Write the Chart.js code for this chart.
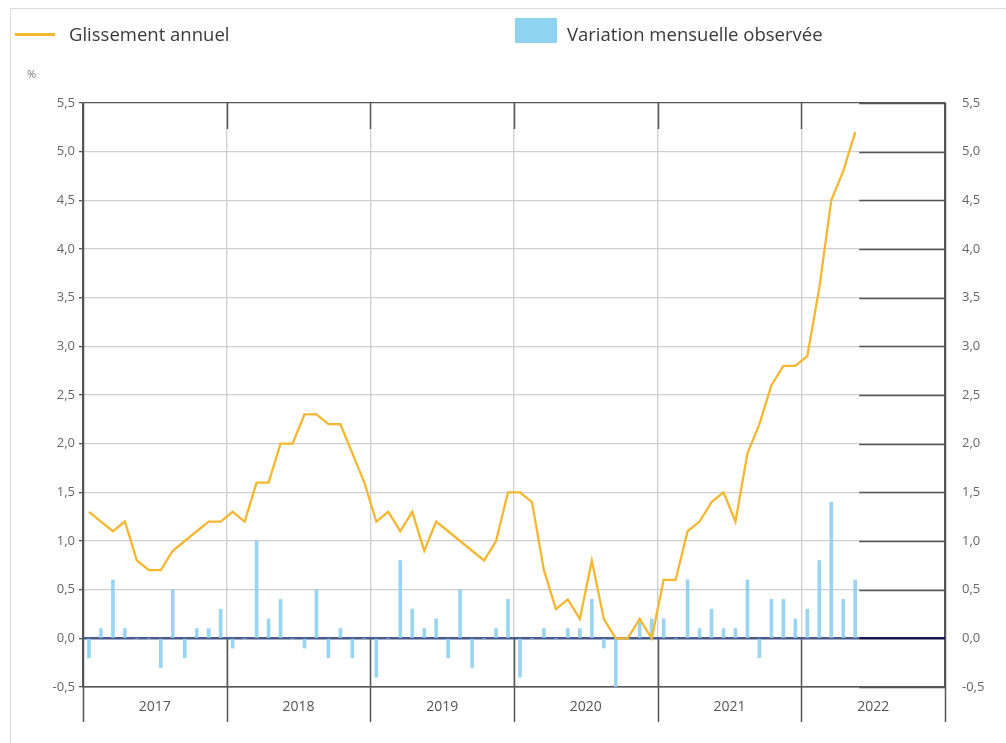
<!DOCTYPE html>
<html><head><meta charset="utf-8">
<script src="https://cdn.jsdelivr.net/npm/chart.js@4.4.1/dist/chart.umd.min.js"></script>
<style>
html,body{margin:0;padding:0;background:#fff;}
#wrap{position:relative;width:1006px;height:743px;font-family:"Open Sans",sans-serif;overflow:hidden;}
#frame{position:absolute;left:10px;top:8px;right:-2px;bottom:-2px;border-left:1px solid #dcdcdc;border-top:1px solid #dcdcdc;}
canvas{position:absolute;left:0;top:0;}
.lg{position:absolute;font-size:18.5px;color:#3a3a3a;line-height:22px;white-space:nowrap;}
</style></head>
<body><div id="wrap"><div id="frame"></div>
<canvas id="c" width="1006" height="743"></canvas>
<div style="position:absolute;left:15px;top:33px;width:40px;height:3px;background:#f4b731"></div>
<div class="lg" style="left:69px;top:23px">Glissement annuel</div>
<div style="position:absolute;left:515px;top:18px;width:42px;height:25px;background:#8fd3f0"></div>
<div class="lg" style="left:567px;top:23px">Variation mensuelle observée</div>
<div style="position:absolute;left:27px;top:66px;font-size:11px;color:#777">%</div>
</div>
<script>
const years = ['2017','2018','2019','2020','2021','2022'];
const monthsPerYear = 12;
const glissement = [
  1.3,1.2,1.1,1.2,0.8,0.7,0.7,0.9,1.0,1.1,1.2,1.2,
  1.3,1.2,1.6,1.6,2.0,2.0,2.3,2.3,2.2,2.2,1.9,1.6,
  1.2,1.3,1.1,1.3,0.9,1.2,1.1,1.0,0.9,0.8,1.0,1.5,
  1.5,1.4,0.7,0.3,0.4,0.2,0.8,0.2,0.0,0.0,0.2,0.0,
  0.6,0.6,1.1,1.2,1.4,1.5,1.2,1.9,2.2,2.6,2.8,2.8,
  2.9,3.6,4.5,4.8,5.2
];
const mensuelle = [
  -0.2,0.1,0.6,0.1,0.0,0.0,-0.3,0.5,-0.2,0.1,0.1,0.3,
  -0.1,0.0,1.0,0.2,0.4,0.0,-0.1,0.5,-0.2,0.1,-0.2,0.0,
  -0.4,0.0,0.8,0.3,0.1,0.2,-0.2,0.5,-0.3,0.0,0.1,0.4,
  -0.4,0.0,0.1,0.0,0.1,0.1,0.4,-0.1,-0.5,0.0,0.2,0.2,
  0.2,0.0,0.6,0.1,0.3,0.1,0.1,0.6,-0.2,0.4,0.4,0.2,
  0.3,0.8,1.4,0.4,0.6
];
const yTickMin = -0.5, yTickMax = 5.5, yStep = 0.5;

const monthLabels = [];
years.forEach(y => { for (let m = 1; m <= monthsPerYear; m++) monthLabels.push(y + '-' + String(m).padStart(2,'0')); });
const totalMonths = years.length * monthsPerYear;
const yearTickValues = [];
for (let v = 0; v <= totalMonths; v += monthsPerYear/2) yearTickValues.push(v);

Chart.defaults.font.family = '"Open Sans", sans-serif';
const DARK = '#555555', LIGHT = '#cfcfcf';
const fmt = v => Number(v).toFixed(1).replace('.', ',');

const decor = {
  id: 'decor',
  beforeDatasetsDraw(chart) {
    const {ctx, chartArea: a, scales} = chart;
    const xs = scales.xYear, y = scales.y, xc = scales.x;
    const y0 = y.getPixelForValue(0);
    const xEnd = xc.getPixelForValue(glissement.length - 1) + 4;
    ctx.save();
    ctx.strokeStyle = DARK; ctx.lineWidth = 1.5;
    yearTickValues.filter(v => v % monthsPerYear === 0).forEach(v => {
      const px = Math.round(xs.getPixelForValue(v)) + 0.5;
      const edge = (v === 0 || v === totalMonths);
      ctx.beginPath();
      ctx.moveTo(px, edge ? a.top : y0);
      ctx.lineTo(px, a.bottom + 35);
      ctx.stroke();
      if (!edge) {
        ctx.beginPath(); ctx.moveTo(px, a.top); ctx.lineTo(px, a.top + 26); ctx.stroke();
      }
    });
    y.ticks.forEach(t => {
      if (Math.abs(t.value) < 1e-9) return;
      const py = Math.round(y.getPixelForValue(t.value)) + 0.5;
      ctx.beginPath(); ctx.moveTo(xEnd, py); ctx.lineTo(a.right, py); ctx.stroke();
    });
    ctx.lineWidth = 2.5;
    ctx.strokeStyle = '#4a5a8c';
    ctx.beginPath(); ctx.moveTo(a.left, y0); ctx.lineTo(xEnd, y0); ctx.stroke();
    ctx.strokeStyle = '#15154f';
    ctx.beginPath(); ctx.moveTo(xEnd, y0); ctx.lineTo(a.right, y0); ctx.stroke();
    ctx.restore();
  }
};

new Chart(document.getElementById('c'), {
  data: {
    labels: monthLabels,
    datasets: [
      { type: 'line', label: 'Glissement annuel', data: glissement, xAxisID: 'x', yAxisID: 'y',
        borderColor: '#f4b731', borderWidth: 2.3, pointRadius: 0, tension: 0, order: 0 },
      { type: 'bar', label: 'Variation mensuelle observée', data: mensuelle, xAxisID: 'x', yAxisID: 'y',
        backgroundColor: 'rgba(135,205,238,0.85)', barThickness: 3, order: 1 }
    ]
  },
  options: {
    responsive: false,
    animation: false,
    layout: { padding: { top: 103, left: 0, right: 0, bottom: 16 } },
    plugins: { legend: { display: false }, tooltip: { enabled: false } },
    scales: {
      x: { type: 'category', offset: true, display: false },
      xYear: {
        type: 'linear', position: 'bottom', min: 0, max: totalMonths,
        afterBuildTicks: s => { s.ticks = yearTickValues.map(v => ({ value: v })); },
        ticks: { autoSkip: false, maxRotation: 0, padding: 12, color: '#555', font: { size: 14 },
          callback: v => (v % monthsPerYear === monthsPerYear/2) ? years[(v - monthsPerYear/2) / monthsPerYear] : '' },
        grid: { drawTicks: false,
          color: c => (c.tick.value % monthsPerYear === 0) ? ((c.tick.value === 0 || c.tick.value === totalMonths) ? DARK : LIGHT) : 'rgba(0,0,0,0)',
          lineWidth: 1.3 },
        border: { display: true, color: DARK, width: 1.5 },
        afterFit: s => { s.height = 40; }
      },
      y: {
        position: 'left', min: yTickMin, max: yTickMax,
        ticks: { stepSize: yStep, callback: fmt, padding: 4, color: '#666', font: { size: 13 } },
        grid: { color: c => (Math.abs(c.tick.value - yTickMin) < 1e-9 || Math.abs(c.tick.value - yTickMax) < 1e-9) ? DARK : (Math.abs(c.tick.value) < 1e-9 ? 'rgba(0,0,0,0)' : LIGHT),
          lineWidth: 1.3, tickLength: 4, tickColor: DARK },
        border: { display: true, color: DARK, width: 1.5 },
        afterFit: s => { s.width = 83; }
      },
      y2: {
        position: 'right', min: yTickMin, max: yTickMax,
        ticks: { stepSize: yStep, callback: fmt, padding: 9, color: '#666', font: { size: 13 } },
        grid: { display: false, drawOnChartArea: false },
        border: { display: true, color: DARK, width: 1.5 },
        afterFit: s => { s.width = 61; }
      }
    }
  },
  plugins: [decor]
});
</script>
</body></html>
